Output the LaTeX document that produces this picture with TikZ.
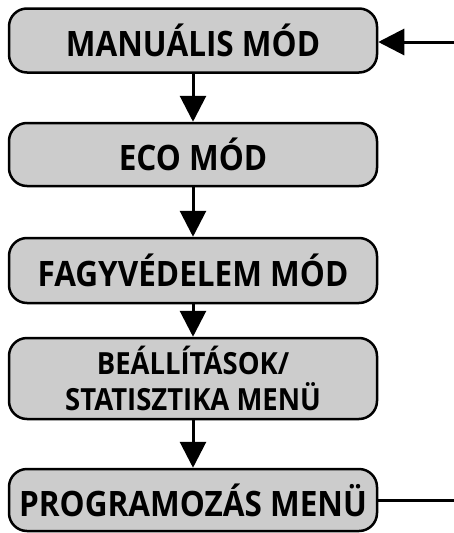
\documentclass[tikz,border=0pt]{standalone}
\usepackage{fontspec}
\newfontfamily\labelfont[FakeStretch=0.9]{Open Sans}
\usetikzlibrary{arrows.meta}
\definecolor{boxgray}{HTML}{CCCCCC}
\tikzset{
  modebox/.style={draw=black, line width=2.5pt, fill=boxgray, rounded corners=18pt,
    minimum width=368pt, inner sep=0pt, align=center, font=\labelfont\bfseries\fontsize{35}{40}\selectfont},
  flow/.style={line width=3pt, -{Triangle[width=26pt,length=26pt]}},
}
\begin{document}
\begin{tikzpicture}[x=1pt,y=-1pt]
  \useasboundingbox (0,0) rectangle (454,533);
  \node[modebox, minimum height=64pt] (manual) at (193,40.5) {MANUÁLIS MÓD};
  \node[modebox, minimum height=63pt] (eco) at (193,154.5) {ECO MÓD};
  \node[modebox, minimum height=65pt] (fagy) at (193,270.5) {FAGYVÉDELEM MÓD};
  \node[modebox, minimum height=81pt, font=\labelfont\bfseries\fontsize{30.5}{36}\selectfont] (menu) at (193,378.5) {BEÁLLÍTÁSOK/\\STATISZTIKA MENÜ};
  \node[modebox, minimum height=62pt] (prog) at (193,500) {PROGRAMOZÁS MENÜ};
  \coordinate (inR) at (454,42);
  \coordinate (outR) at (454,500);
  \draw[flow] (manual) -- (eco);
  \draw[flow] (eco) -- (fagy);
  \draw[flow] (fagy) -- (menu);
  \draw[flow] (menu) -- (prog);
  \draw[flow] (inR) -- (manual.east |- inR);
  \draw[line width=3pt] (prog.east |- outR) -- (outR);
\end{tikzpicture}
\end{document}
